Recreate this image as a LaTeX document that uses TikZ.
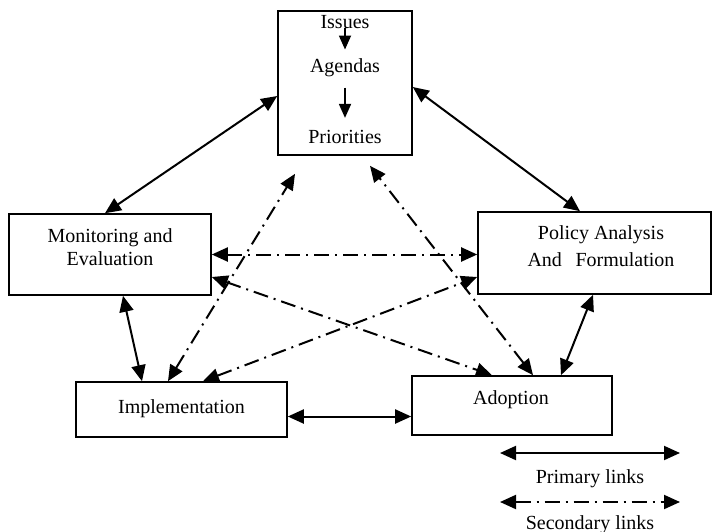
\documentclass[tikz,border=0pt]{standalone}
\usepackage{fontspec}
\setmainfont{Liberation Serif}
\usetikzlibrary{arrows.meta,calc}

\begin{document}
\begin{tikzpicture}[x=0.5pt,y=-0.5pt,
  box/.style={draw, line width=0.8pt, rectangle, inner sep=0pt},
  lbl/.style={font=\fontsize{10}{12}\selectfont, inner sep=0pt, align=center},
  prim/.style={line width=1pt, {Triangle[length=8pt,width=7pt]}-{Triangle[length=8pt,width=7pt]}},
  sec/.style={prim, dash pattern=on 7.5pt off 3pt on 1pt off 3pt},
  inner/.style={line width=0.9pt, -{Triangle[length=7pt,width=6pt]}}]
\useasboundingbox (0,0) rectangle (713,531);

% boxes
\node[box, minimum width=67pt, minimum height=72pt] (top) at (345,83) {};
\node[box, minimum width=101pt, minimum height=40.5pt] (mon) at (110,254.5) {};
\node[box, minimum width=116.5pt, minimum height=41pt] (pol) at (594.5,253) {};
\node[box, minimum width=105.5pt, minimum height=27.5pt] (imp) at (181.5,409.5) {};
\node[box, minimum width=100pt, minimum height=29.5pt] (ado) at (512,405.5) {};

% texts
\node[lbl] (issues) at (345,22) {Issues};
\node[lbl] (agendas) at (345,68) {Agendas};
\node[lbl] (prio) at (345,137) {Priorities};
\node[lbl, font=\fontsize{10}{11.5}\selectfont] (montxt) at (110,247.5) {Monitoring and\\Evaluation};
\node[lbl, font=\fontsize{10}{13.5}\selectfont] (poltxt) at (601,246) {Policy Analysis\\And\hspace{0.68em}Formulation};
\node[lbl] (imptxt) at (181.5,409) {Implementation};
\node[lbl] (adotxt) at (511,400) {Adoption};

% steps inside the agenda box
\draw[inner] ($(issues.south)+(0,-1)$) -- ($(agendas.north)+(0,-9)$);
\draw[inner] ($(agendas.south)+(0,10)$) -- ($(prio.north)+(0,-12)$);

% primary links
\draw[prim] ($(top.west)+(0,13)$) -- ($(mon.north)+(-5,0)$);
\draw[prim] ($(top.east)+(0,4)$) -- ($(pol.north)+(-14.5,0)$);
\draw[prim] ($(mon.south)+(13,0)$) -- ($(imp.north)+(-39.5,0)$);
\draw[prim] ($(imp.east)+(0,7)$) -- ($(ado.west)+(0,11)$);
\draw[prim] ($(pol.south)+(-1.5,0)$) -- ($(ado.north)+(49,0)$);

% secondary links
\draw[sec] (mon.east) -- (mon.east -| pol.west);
\draw[sec] ($(mon.east)+(0,22.5)$) -- ($(ado.north)+(-20,0)$);
\draw[sec] ($(imp.north)+(21.5,0)$) -- ($(pol.west)+(0,24)$);
\draw[sec] ($(imp.north)+(-13.5,0)$) -- ($(top.south)+(-50,18)$);
\draw[sec] ($(ado.north)+(21,0)$) -- ($(top.south)+(25,10)$);

% legend
\coordinate (pa) at (500,453);
\coordinate (pb) at (680,453);
\coordinate (sa) at (500,502);
\coordinate (sb) at (680,502);
\draw[prim] (pa) -- (pb);
\node[lbl] (plbl) at (590,479) {Primary links};
\draw[sec] (sa) -- (sb);
\node[lbl, anchor=base] (slbl) at (590,529) {Secondary links};
\end{tikzpicture}
\end{document}
